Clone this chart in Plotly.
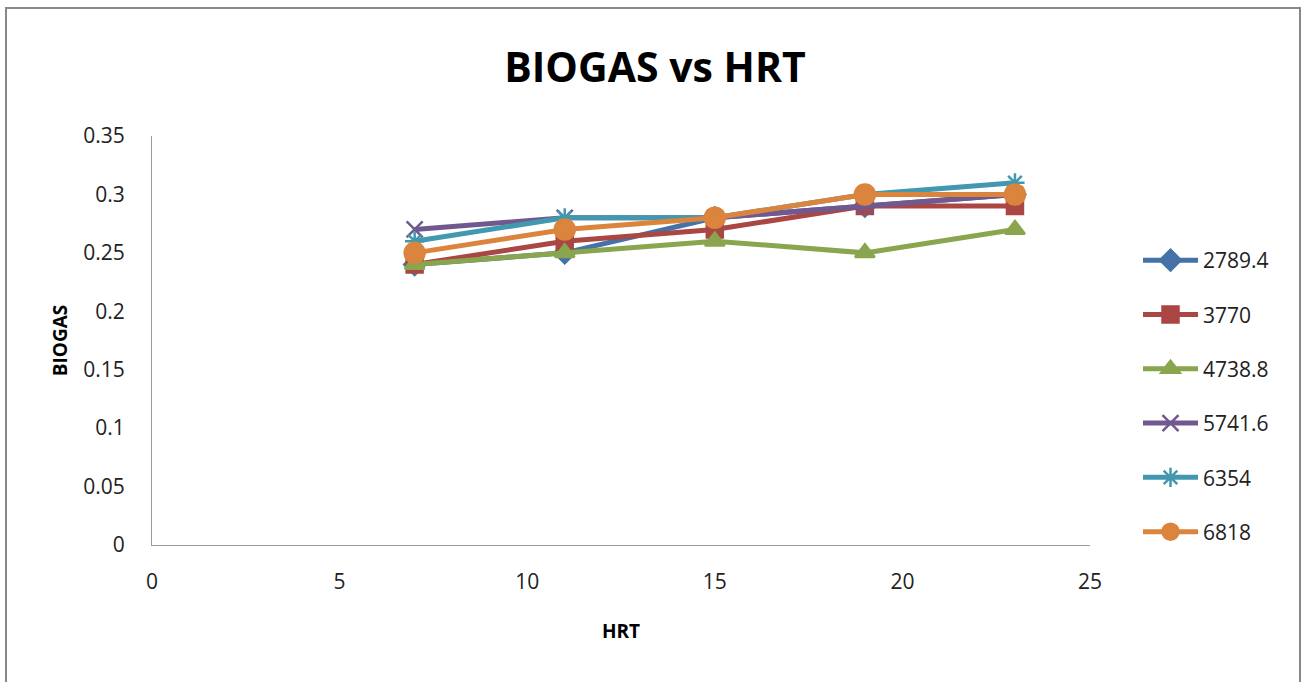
import plotly.graph_objects as go

hrt = [7, 11, 15, 19, 23]
series_names = ["2789.4", "3770", "4738.8", "5741.6", "6354", "6818"]
s_2789 = [0.24, 0.25, 0.28, 0.29, 0.30]
s_3770 = [0.24, 0.26, 0.27, 0.29, 0.29]
s_4738 = [0.24, 0.25, 0.26, 0.25, 0.27]
s_5741 = [0.27, 0.28, 0.28, 0.29, 0.30]
s_6354 = [0.26, 0.28, 0.28, 0.30, 0.31]
s_6818 = [0.25, 0.27, 0.28, 0.30, 0.30]
values = [s_2789, s_3770, s_4738, s_5741, s_6354, s_6818]

colors = ["#4572A7", "#AA4643", "#89A54E", "#71588F", "#4198AF", "#DB843D"]
symbols = ["diamond", "square", "triangle-up", "x-thin-open", "asterisk-open", "circle"]
sizes = [16, 16, 17, 16, 16, 20]

FONT = "Open Sans"
fig = go.Figure()
for name, vals, c, sym, sz in zip(series_names, values, colors, symbols, sizes):
    fig.add_trace(go.Scatter(
        x=hrt, y=vals, name=name, mode="lines+markers", legendgroup=name,
        line=dict(color=c, width=5),
        marker=dict(symbol=sym, size=sz, color=c, line=dict(color=c, width=2.5)),
    ))

L, R, T, B = 152, 213, 136, 137
W, H = 1303, 682
pw, ph = W - L - R, H - T - B

fig.update_layout(
    width=W, height=H,
    margin=dict(l=L, r=R, t=T, b=B),
    paper_bgcolor="white", plot_bgcolor="white",
    font=dict(family=FONT, color="#222"),
    title=dict(text="<b>BIOGAS vs HRT</b>", x=(655 - L) / pw, xanchor="center", y=1 - 68 / H, yanchor="middle",
               xref="paper", font=dict(size=41, family=FONT, color="black")),
    xaxis=dict(range=[0, 25], tickvals=[0, 5, 10, 15, 20, 25], showgrid=False, zeroline=False,
               showline=True, linecolor="#999", linewidth=1, ticks="",
               tickfont=dict(size=21, color="#222"), ticklabelstandoff=18,
               title=dict(text="<b>HRT</b>", font=dict(size=19, color="black"), standoff=30)),
    yaxis=dict(range=[0, 0.35], tickvals=[0, 0.05, 0.1, 0.15, 0.2, 0.25, 0.3, 0.35],
               ticktext=["0", "0.05", "0.1", "0.15", "0.2", "0.25", "0.3", "0.35"],
               showgrid=False, zeroline=False,
               showline=True, linecolor="#999", linewidth=1, ticks="",
               tickfont=dict(size=21, color="#222"), ticklabelstandoff=22,
               title=dict(text="<b>BIOGAS</b>", font=dict(size=19, color="black"), standoff=10)),
    legend=dict(x=(1138 - L) / pw, xanchor="left", y=1 - (240 - T) / ph, yanchor="top",
                font=dict(size=21, color="#222"), tracegroupgap=24, itemwidth=55,
                bgcolor="rgba(0,0,0,0)"),
    showlegend=True,
)

# outer chart border
fig.add_shape(type="rect", xref="paper", yref="paper",
              x0=(6 - L) / pw, x1=(1300 - L) / pw,
              y0=1 - (700 - T) / ph, y1=1 - (8 - T) / ph,
              line=dict(color="#888", width=2), fillcolor="rgba(0,0,0,0)", layer="below")

fig.write_html("out.html", config={"displayModeBar": False},
               post_script="document.body.style.margin='0';document.body.style.overflow='hidden';")
